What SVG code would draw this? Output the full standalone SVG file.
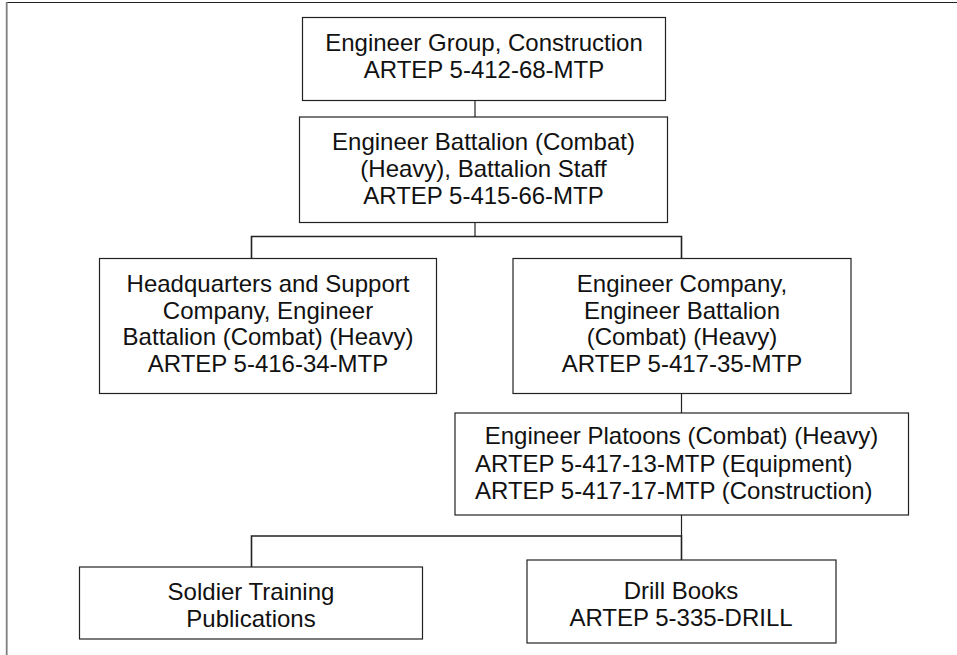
<svg xmlns="http://www.w3.org/2000/svg" width="957" height="655" viewBox="0 0 957 655">
<style>
.box{fill:#fff;stroke:#222;stroke-width:1.2}
.t{font-family:"Liberation Sans",Arial,sans-serif;font-size:24px;fill:#111;text-anchor:middle}
.ts{font-family:"Liberation Sans",Arial,sans-serif;font-size:24px;fill:#111;text-anchor:start}
.c{stroke:#222;stroke-width:1.2;fill:none}
</style>
<rect width="957" height="655" fill="#fff"/>
<g id="frame">
<line x1="6.5" y1="2.5" x2="957" y2="2.5" stroke="#222" stroke-width="1.2"/>
<line x1="6.7" y1="2" x2="6.7" y2="655" stroke="#808080" stroke-width="1.8"/>
</g>
<g id="connectors">
<line class="c" x1="475" y1="100.5" x2="475" y2="117"/>
<line class="c" x1="475" y1="222.5" x2="475" y2="236.5"/>
<polyline class="c" points="251.5,258.5 251.5,236.5 681.5,236.5 681.5,258.5" style="stroke-width:1.6"/>
<line class="c" x1="681.5" y1="393" x2="681.5" y2="413"/>
<line class="c" x1="681.5" y1="515" x2="681.5" y2="536"/>
<polyline class="c" points="251.5,567 251.5,536 681.5,536 681.5,560" style="stroke-width:1.6"/>
</g>
<g id="n1">
<rect class="box" x="302.5" y="17.5" width="363" height="83"/>
<text class="t" x="484" y="51">Engineer Group, Construction</text>
<text class="t" x="484" y="78">ARTEP 5-412-68-MTP</text>
</g>
<g id="n2">
<rect class="box" x="299.5" y="117" width="368" height="105.5"/>
<text class="t" x="483.5" y="150">Engineer Battalion (Combat)</text>
<text class="t" x="483.5" y="177">(Heavy), Battalion Staff</text>
<text class="t" x="483.5" y="204">ARTEP 5-415-66-MTP</text>
</g>
<g id="n3">
<rect class="box" x="99.5" y="258.5" width="337" height="135"/>
<text class="t" x="268" y="292">Headquarters and Support</text>
<text class="t" x="268" y="318.5">Company, Engineer</text>
<text class="t" x="268" y="345">Battalion (Combat) (Heavy)</text>
<text class="t" x="268" y="371.5">ARTEP 5-416-34-MTP</text>
</g>
<g id="n4">
<rect class="box" x="513" y="258.5" width="338" height="135"/>
<text class="t" x="682" y="292">Engineer Company,</text>
<text class="t" x="682" y="318.5">Engineer Battalion</text>
<text class="t" x="682" y="345">(Combat) (Heavy)</text>
<text class="t" x="682" y="371.5">ARTEP 5-417-35-MTP</text>
</g>
<g id="n5">
<rect class="box" x="455" y="413" width="453.5" height="102"/>
<text class="t" x="681.5" y="444">Engineer Platoons (Combat) (Heavy)</text>
<text class="ts" x="475" y="471.5">ARTEP 5-417-13-MTP (Equipment)</text>
<text class="ts" x="475" y="499">ARTEP 5-417-17-MTP (Construction)</text>
</g>
<g id="n6">
<rect class="box" x="79.5" y="567" width="343" height="72"/>
<text class="t" x="251" y="600">Soldier Training</text>
<text class="t" x="251" y="627">Publications</text>
</g>
<g id="n7">
<rect class="box" x="527" y="560" width="309" height="83"/>
<text class="t" x="681" y="599">Drill Books</text>
<text class="t" x="681" y="626">ARTEP 5-335-DRILL</text>
</g>
</svg>
